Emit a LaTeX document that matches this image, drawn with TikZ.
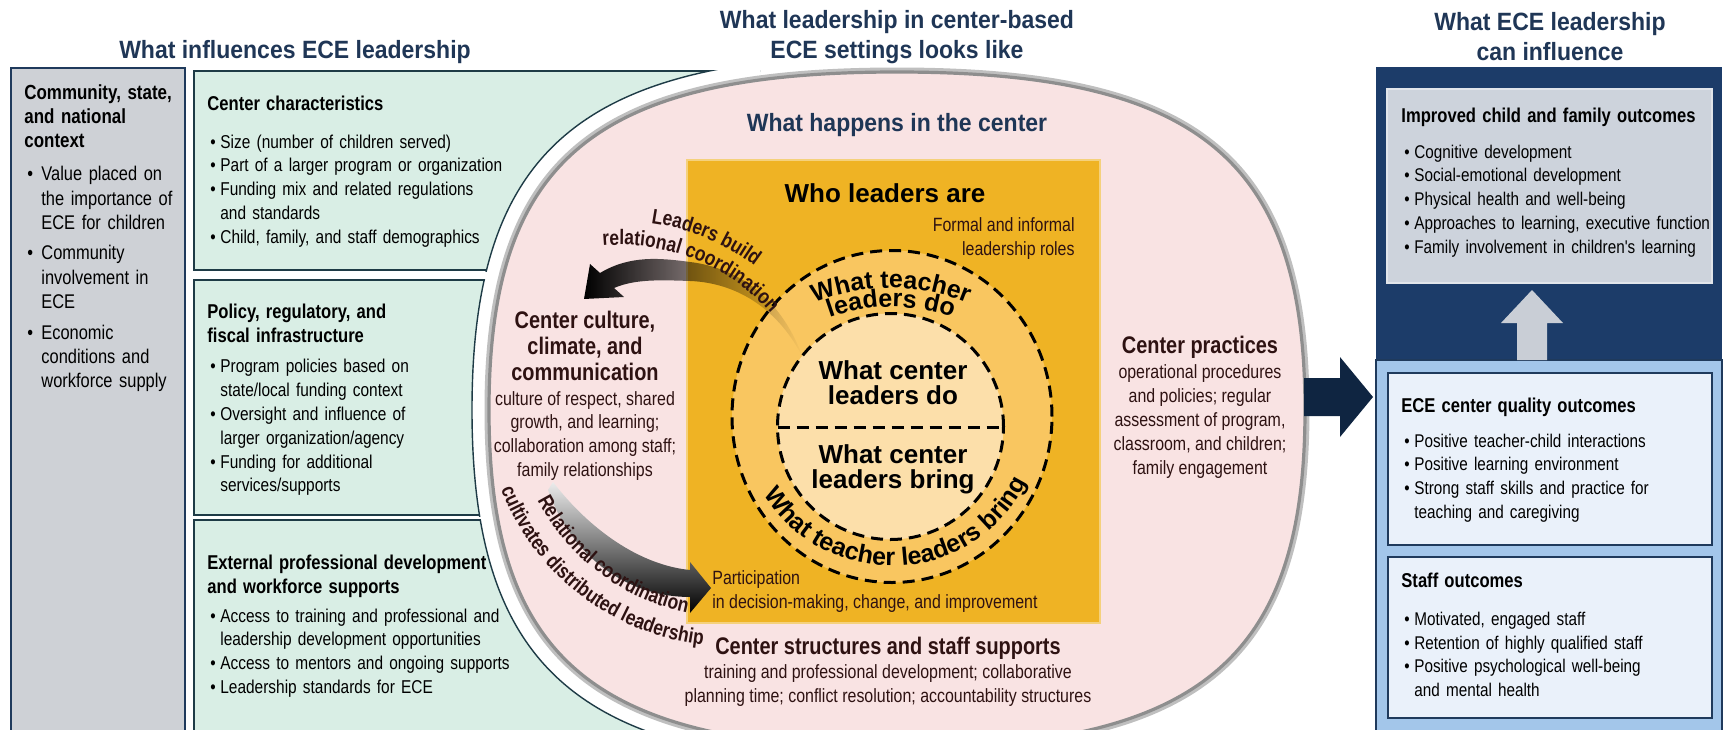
\documentclass[tikz,border=0pt]{standalone}
\usepackage{fontspec}
\setmainfont{Liberation Sans}
\newfontfamily\narrowfont{Liberation Sans}[FakeStretch=0.83]
\newfontfamily\titlefont{Liberation Sans}[FakeStretch=0.92]
\usetikzlibrary{positioning,calc,fadings,decorations.text}

\definecolor{navytitle}{HTML}{1F3656}
\definecolor{graybox}{HTML}{CED1D6}
\definecolor{navyline}{HTML}{1F3A5C}
\definecolor{mint}{HTML}{D9EEE5}
\definecolor{mintline}{HTML}{1E3B46}
\definecolor{pinkfill}{HTML}{F9E3E3}
\definecolor{ovalline}{HTML}{8E8E8E}
\definecolor{gold}{HTML}{EFB324}
\definecolor{ring}{HTML}{F9C660}
\definecolor{core}{HTML}{FCDFAA}
\definecolor{maroon}{HTML}{2E1212}
\definecolor{panelnavy}{HTML}{1C3C69}
\definecolor{panelblue}{HTML}{A3C6EA}
\definecolor{outgray}{HTML}{CDD3DC}
\definecolor{outwhite}{HTML}{EAF1FA}
\definecolor{arrownavy}{HTML}{0F2541}
\definecolor{uparrow}{HTML}{C9CED6}

\newcommand{\bodyfont}{\narrowfont\fontsize{9.6}{11.9}\selectfont}
\newcommand{\greenfont}{\narrowfont\fontsize{9.3}{11.9}\selectfont}
\newcommand{\outfont}{\narrowfont\fontsize{9.2}{11.9}\selectfont}
\newcommand{\headfont}{\narrowfont\bfseries\fontsize{10}{11.9}\selectfont}
\newcommand{\arcfont}{\narrowfont\bfseries\fontsize{10.5}{10.5}\selectfont\color{maroon}}
\newcommand{\ringfont}{\bfseries\fontsize{12.5}{12.5}\selectfont}
\newcommand{\bul}[1][6.5pt]{\par\hangindent=#1\noindent\hbox to #1{\hskip1.5pt\textbullet\hfil}}
\newcommand{\gbul}{\par\vspace{3pt}\bul[8.5pt]}
\newcommand{\ovalpath}[1]{({897+408+#1},-410) .. controls ({897+408+#1},{-410+0.74*(338+#1)}) and ({897+0.74*(408+#1)},{-72+#1}) .. (897,{-72+#1}) .. controls ({897-0.74*(408+#1)},{-72+#1}) and ({897-408-#1},{-410+0.74*(338+#1)}) .. ({897-408-#1},-410) .. controls ({897-408-#1},{-410-0.74*(338+#1)}) and ({897-0.74*(408+#1)},{-748-#1}) .. (897,{-748-#1}) .. controls ({897+0.74*(408+#1)},{-748-#1}) and ({897+408+#1},{-410-0.74*(338+#1)}) .. ({897+408+#1},-410) -- cycle}

\tikzfading[name=leadfade, left color=transparent!0, middle color=transparent!15, right color=transparent!100]

\tikzstyle{coltitle}=[inner sep=0pt, align=center, text=navytitle, font=\titlefont\bfseries\fontsize{12.5}{15}\selectfont]
\tikzstyle{boxtext}=[anchor=north west, inner sep=0pt, align=left, text width=175pt, font=\greenfont]
\tikzstyle{pinkhead}=[inner sep=0pt, align=center, text=maroon, font=\narrowfont\bfseries\fontsize{12}{12.8}\selectfont]
\tikzstyle{pinkbody}=[inner sep=0pt, align=center, text=maroon, font=\bodyfont]
\tikzstyle{circtext}=[inner sep=0pt, align=center, font=\bfseries\fontsize{13}{12.5}\selectfont]
\tikzstyle{ringline}=[draw=black, line width=1.5pt, dash pattern=on 6pt off 3.5pt]
\tikzstyle{outbox}=[fill=outwhite, draw=navyline, line width=1pt]
\tikzstyle{arctext}=[decorate, decoration={text along path, text align=center}]
\newcommand{\boxtxt}{\node[boxtext]}

\begin{document}
\begin{tikzpicture}[x=0.5pt, y=0.5pt]
  \useasboundingbox (0,0) rectangle (1726,-729);
  \clip (0,0) rectangle (1726,-729);

  % left column
  \filldraw[fill=graybox, draw=navyline, line width=0.8pt] (11,-68) rectangle (185,-740);
  \foreach \ya/\yb in {-71/-270,-280/-515,-520/-740}{
    \begin{scope}
      \clip (193,\ya+1) rectangle (760,\yb-1);
      \filldraw[fill=mint, draw=mintline, line width=0.7pt] (194,\ya) rectangle (900,\yb);
      \filldraw[fill=white, draw=mintline, line width=0.7pt] \ovalpath{17};
    \end{scope}
  }

  % centre
  \draw[black!25, line width=3pt] \ovalpath{1.5};
  \filldraw[fill=pinkfill, draw=ovalline, line width=1.6pt] \ovalpath{0};
  \filldraw[fill=gold, draw=gold!60!white, line width=0.6pt] (687,-160) rectangle (1100,-623);
  \filldraw[fill=ring, ringline] (892,-416.5) ellipse [x radius=160, y radius=166];
  \filldraw[fill=core, ringline] (890.5,-426.5) circle [radius=113];
  \draw[ringline] (777.5,-427) -- (1003.5,-427);

  \coordinate (lbtip) at (584,-299);
  \coordinate (lbtail) at (803,-358);
  \fill[black, path fading=leadfade] (600,-273) .. controls (630,-255) and (660,-258) .. (690,-262) .. controls (740,-268) and (782,-300) .. (lbtail) .. controls (780,-312) and (740,-283) .. (690,-281) .. controls (660,-280) and (635,-279) .. (614,-288) -- (624,-297) -- (lbtip) -- (590,-264) -- cycle;
  \coordinate (rctail) at (553,-482);
  \coordinate (rctip) at (711,-588);
  \shade[top color=gray!15, middle color=black!75, bottom color=black] (rctail) .. controls (590,-530) and (640,-565) .. (690,-570) -- (690,-562) -- (rctip) -- (690,-613) -- (690,-597) .. controls (630,-597) and (573,-560) .. (548,-490) -- cycle;

  \path[arctext, decoration={text={|\arcfont|Leaders build}}] ($(620,-445)+(86:224)$) arc[start angle=86, end angle=49, radius=224];
  \path[arctext, decoration={text={|\arcfont|relational coordination}}] ($(620,-445)+(99:200)$) arc[start angle=99, end angle=37, radius=200];
  \path[arctext, decoration={text={|\arcfont|Relational coordination}}] ($(730,-400)+(204:217)$) arc[start angle=204, end angle=262, radius=217];
  \path[arctext, decoration={text={|\arcfont|cultivates distributed leadership}}] ($(730,-400)+(199:246)$) arc[start angle=199, end angle=266, radius=246];
  \path[arctext, decoration={text={|\ringfont|What teacher}}] ($(891,-488)+(116:200)$) arc[start angle=116, end angle=64, radius=200];
  \path[arctext, decoration={text={|\ringfont|leaders do}}] ($(891,-488)+(113:181)$) arc[start angle=113, end angle=67, radius=181];
  \path[arctext, decoration={text={|\ringfont|What teacher leaders bring}}] ($(892,-416)+(205:150)$) arc[start angle=205, end angle=340, radius=150];

  \node[coltitle] (happens) at (897,-125) {What happens in the center};
  \node[circtext] (who) at (885,-193) {Who leaders are};
  \node[pinkbody, anchor=north east, align=right] (formal) at (1075,-217.5) {Formal and informal\\leadership roles};
  \node[circtext] (cdo) at (893,-382.5) {What center\\leaders do};
  \node[circtext] (cbring) at (893,-469) {What center\\leaders bring};
  \node[pinkbody, anchor=north west, align=left] (particip) at (712,-570.5) {Participation\\in decision-making, change, and improvement};
  \node[pinkhead] (culture) at (585,-346) {Center culture,\\climate, and\\communication};
  \node[pinkbody, below=5pt of culture] (culturetxt) {culture of respect, shared\\growth, and learning;\\collaboration among staff;\\family relationships};
  \node[pinkhead] (practices) at (1200,-347) {Center practices};
  \node[pinkbody, below=3pt of practices] (practicestxt) {operational procedures\\and policies; regular\\assessment of program,\\classroom, and children;\\family engagement};
  \node[pinkhead] (structures) at (888,-648) {Center structures and staff supports};
  \node[pinkbody, below=2.5pt of structures] (structurestxt) {training and professional development; collaborative\\planning time; conflict resolution; accountability structures};

  % left texts
  \node[boxtext, text width=80pt, font=\narrowfont\fontsize{9.9}{12.2}\selectfont] (context) at (24,-84.5) {{\narrowfont\bfseries\fontsize{10.2}{12}\selectfont Community, state,\newline and national\newline context\par}\vspace{4.3pt}\bul[8.5pt]Value placed on\newline the importance of\newline ECE for children\gbul Community\newline involvement in\newline ECE\gbul Economic\newline conditions and\newline workforce supply\par};
  \boxtxt (charbox) at (207,-95.5) {{\headfont Center characteristics\par}\vspace{7pt}\bul Size (number of children served)\bul Part of a larger program or organization\bul Funding mix and related regulations\newline and standards\bul Child, family, and staff demographics\par};
  \boxtxt (policybox) at (207,-303.5) {{\headfont Policy, regulatory, and\newline fiscal infrastructure\par}\vspace{3.5pt}\bul Program policies based on\newline state/local funding context\bul Oversight and influence of\newline larger organization/agency\bul Funding for additional\newline services/supports\par};
  \boxtxt (pdbox) at (207,-554.5) {{\headfont External professional development\newline and workforce supports\par}\vspace{2.5pt}\bul Access to training and professional and\newline leadership development opportunities\bul Access to mentors and ongoing supports\bul Leadership standards for ECE\par};

  % right column
  \fill[panelnavy] (1376,-67) rectangle (1722,-740);
  \filldraw[fill=panelblue, draw=navyline, line width=1pt] (1376,-360) rectangle (1722,-740);
  \filldraw[fill=outgray, draw=outgray!60!white, line width=1pt] (1387,-89) rectangle (1712,-283);
  \coordinate (uptail) at (1532,-360);
  \coordinate (uptip) at (1532,-290);
  \fill[uparrow] ($(uptail)+(-15,0)$) -- ($(uptip)+(-15,-33)$) -- ($(uptip)+(-31,-33)$) -- (uptip) -- ($(uptip)+(31,-33)$) -- ($(uptip)+(15,-33)$) -- ($(uptail)+(15,0)$) -- cycle;
  \filldraw[outbox] (1388,-373) rectangle (1712,-545);
  \filldraw[outbox] (1388,-557) rectangle (1712,-718);
  \coordinate (bigtail) at (1304,-397);
  \coordinate (bigtip) at (1373,-397);
  \fill[arrownavy] ($(bigtail)+(0,19)$) -- ($(bigtip)+(-33,19)$) -- ($(bigtip)+(-33,40)$) -- (bigtip) -- ($(bigtip)+(-33,-40)$) -- ($(bigtip)+(-33,-19)$) -- ($(bigtail)+(0,-19)$) -- cycle;

  \boxtxt (childbox) at (1401,-107.5) {{\headfont Improved child and family outcomes\par}\vspace{6pt}\outfont\bul Cognitive development\bul Social-emotional development\bul Physical health and well-being\bul Approaches to learning, executive function\bul Family involvement in children's learning\par};
  \boxtxt (qualbox) at (1401,-397.5) {{\headfont ECE center quality outcomes\par}\vspace{5.5pt}\outfont\bul Positive teacher-child interactions\bul Positive learning environment\bul Strong staff skills and practice for\newline teaching and caregiving\par};
  \boxtxt (staffbox) at (1401,-572.5) {{\headfont Staff outcomes\par}\vspace{7pt}\outfont\bul Motivated, engaged staff\bul Retention of highly qualified staff\bul Positive psychological well-being\newline and mental health\par};

  % titles
  \node[coltitle] (ttlleft) at (295,-52) {What influences ECE leadership};
  \node[coltitle] (ttlmid) at (897,-37) {What leadership in center-based\\ECE settings looks like};
  \node[coltitle] (ttlright) at (1550,-37) {What ECE leadership\\can influence};
\end{tikzpicture}
\end{document}
